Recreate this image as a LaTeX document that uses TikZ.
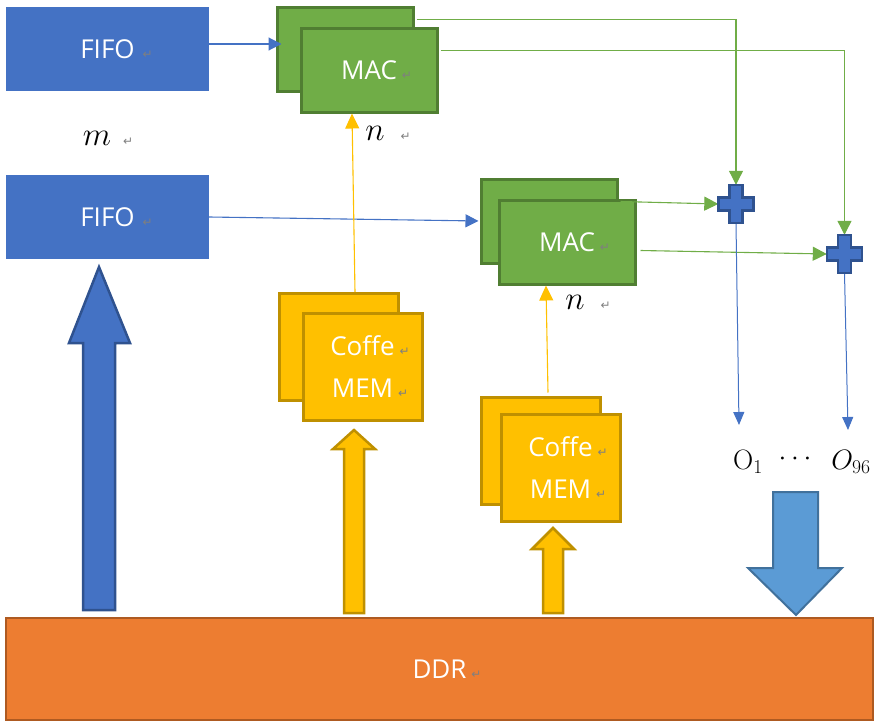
\RequirePackage{fix-cm}
\documentclass[tikz,border=0pt]{standalone}
\usepackage{fontspec}
\setmainfont{Open Sans}
\newfontfamily\djv{DejaVu Sans}
\newfontfamily\lmrm{Latin Modern Roman}
\usetikzlibrary{arrows.meta,calc}
\definecolor{fifoblue}{HTML}{4472C4}
\definecolor{blueedge}{HTML}{2F528F}
\definecolor{macgreen}{HTML}{70AD47}
\definecolor{macedge}{HTML}{507E32}
\definecolor{memyellow}{HTML}{FFC000}
\definecolor{memedge}{HTML}{BF9000}
\definecolor{ddrorange}{HTML}{ED7D31}
\definecolor{ddredge}{HTML}{AE5A21}
\definecolor{outblue}{HTML}{5B9BD5}
\definecolor{outedge}{HTML}{41719C}
\definecolor{markgray}{HTML}{7F7F7F}
\newcommand\retm{{\djv\fontsize{12}{12}\selectfont\color{markgray}↵}}
\newcommand\withret[2][5pt]{#2\rlap{\hspace{#1}\retm}}
\newcommand\crossat[1]{\draw[plusshape] ($(#1)+(-6.5,-19)$) -- ++(13,0) -- ++(0,12.5) -- ++(11,0) -- ++(0,13) -- ++(-11,0) -- ++(0,12.5) -- ++(-13,0) -- ++(0,-12.5) -- ++(-11,0) -- ++(0,-13) -- ++(11,0) -- cycle;}
\begin{document}
\begin{tikzpicture}[x=1pt,y=-1pt,
  txt/.style={text=white,font=\fontsize{26}{42}\selectfont},
  fifobox/.style={fill=fifoblue,minimum width=203pt,minimum height=84pt,inner sep=0pt,txt},
  macbox/.style={fill=macgreen,draw=macedge,line width=3pt,minimum width=136pt,minimum height=84pt,inner sep=0pt,txt},
  membox/.style={fill=memyellow,draw=memedge,line width=3pt,minimum width=119pt,minimum height=107pt,inner sep=0pt,txt,align=center},
  ddrbox/.style={fill=ddrorange,draw=ddredge,line width=2.5pt,minimum width=867pt,minimum height=102pt,inner sep=0pt,txt},
  mathlab/.style={text=black,inner sep=0pt,font=\fontsize{33}{33}\selectfont},
  outlab/.style={text=black,inner sep=0pt,font=\fontsize{28}{28}\selectfont},
  plusnode/.style={minimum width=35pt,minimum height=38pt,inner sep=0pt},
  plusshape/.style={fill=fifoblue,draw=blueedge,line width=2.5pt,line join=miter},
  bline/.style={draw=fifoblue,line width=1.1pt,-{Triangle[length=13pt,width=13pt]}},
  gline/.style={draw=macgreen,line width=1.1pt,-{Triangle[length=14pt,width=14pt]}},
  yline/.style={draw=memyellow,line width=1.1pt,-{Triangle[length=15pt,width=14pt]}},
  bdline/.style={draw=fifoblue,line width=1pt,-{Triangle[length=13pt,width=11pt]}},
  blueblock/.style={fill=fifoblue,draw=blueedge,line width=2.5pt},
  yellowblock/.style={fill=memyellow,draw=memedge,line width=2.5pt},
  outblock/.style={fill=outblue,draw=outedge,line width=2pt}
]
\useasboundingbox (0,0) rectangle (881,728);

% FIFO boxes
\node[fifobox] (fifo1) at (107.5,49) {\withret[8pt]{FIFO}};
\node[fifobox] (fifo2) at (107.5,217) {\withret[8pt]{FIFO}};
\node[mathlab] (mlab) at (97,138) {\withret[12pt]{$m$}};

% MAC boxes
\node[macbox] (mac1b) at (345,49) {};
\node[macbox] (mac1f) at (369,70) {\withret{MAC}};
\node[mathlab] (n1) at (375,133) {\withret[16pt]{$n$}};
\node[macbox] (mac2b) at (549,221) {};
\node[macbox] (mac2f) at (567,242) {\withret{MAC}};
\node[mathlab] (n2) at (575,302) {\withret[16pt]{$n$}};

% Coffe MEM boxes
\node[membox] (cm1b) at (339,347) {};
\node[membox] (cm1f) at (362.5,367) {\withret{Coffe}\\\withret{MEM}};
\node[membox] (cm2b) at (541,450.5) {};
\node[membox] (cm2f) at (560.5,467.5) {\withret{Coffe}\\\withret{MEM}};

% DDR
\node[ddrbox] (ddr) at (439.5,669) {\withret{DDR}};

% adders
\node[plusnode] (p1) at (736,204) {};
\node[plusnode] (p2) at (844.5,254) {};

% outputs
\node[outlab] (o1) at (748,462) {\lmrm O$_1$};
\node[outlab] (odots) at (795,459) {$\cdots$};
\node[outlab] (o96) at (851,462) {$O_{96}$};
\coordinate (o1top) at (739,425);
\coordinate (o96top) at (848,430);

% FIFO -> MAC
\draw[bline] ($(fifo1.east)+(0,-5)$) -- ($(mac1b.west)+(6,-5)$);
\draw[bline] (fifo2.east) -- ($(mac2b.west)+(-1,0)$);

% Coffe MEM -> MAC
\draw[yline] ($(cm1b.north)+(16,0)$) -- ($(mac1f.south)+(-17,0)$);
\draw[yline] ($(cm2b.north)+(7,-3)$) -- ($(mac2f.south)+(-21,0)$);

% MAC -> adders
\draw[gline] ($(mac1b.north east)+(2,14)$) -| (p1.north);
\draw[gline] ($(mac1f.north east)+(2,24)$) -| (p2.north);
\draw[gline] ($(mac2b.north east)+(2,24)$) -- (p1.west);
\draw[gline] ($(mac2f.north east)+(4,52)$) -- (p2.west);

% adders -> outputs
\draw[bdline] (p1.south) -- (o1top);
\draw[bdline] (p2.south) -- (o96top);

\crossat{p1}
\crossat{p2}

% block arrows
\draw[blueblock] (83,610) -- (83,343) -- (69,343) -- (99,267) -- (130,343) -- (115,343) -- (115,610) -- cycle;
\draw[yellowblock] (344,613) -- (344,449) -- (333,449) -- (354,430) -- (375,449) -- (364,449) -- (364,613) -- cycle;
\draw[yellowblock] (543,613) -- (543,549) -- (532,549) -- (553,528) -- (574,549) -- (563,549) -- (563,613) -- cycle;
\draw[outblock] (773,492) -- (818,492) -- (818,568) -- (842,568) -- (796,615) -- (748,568) -- (773,568) -- cycle;
\end{tikzpicture}
\end{document}
